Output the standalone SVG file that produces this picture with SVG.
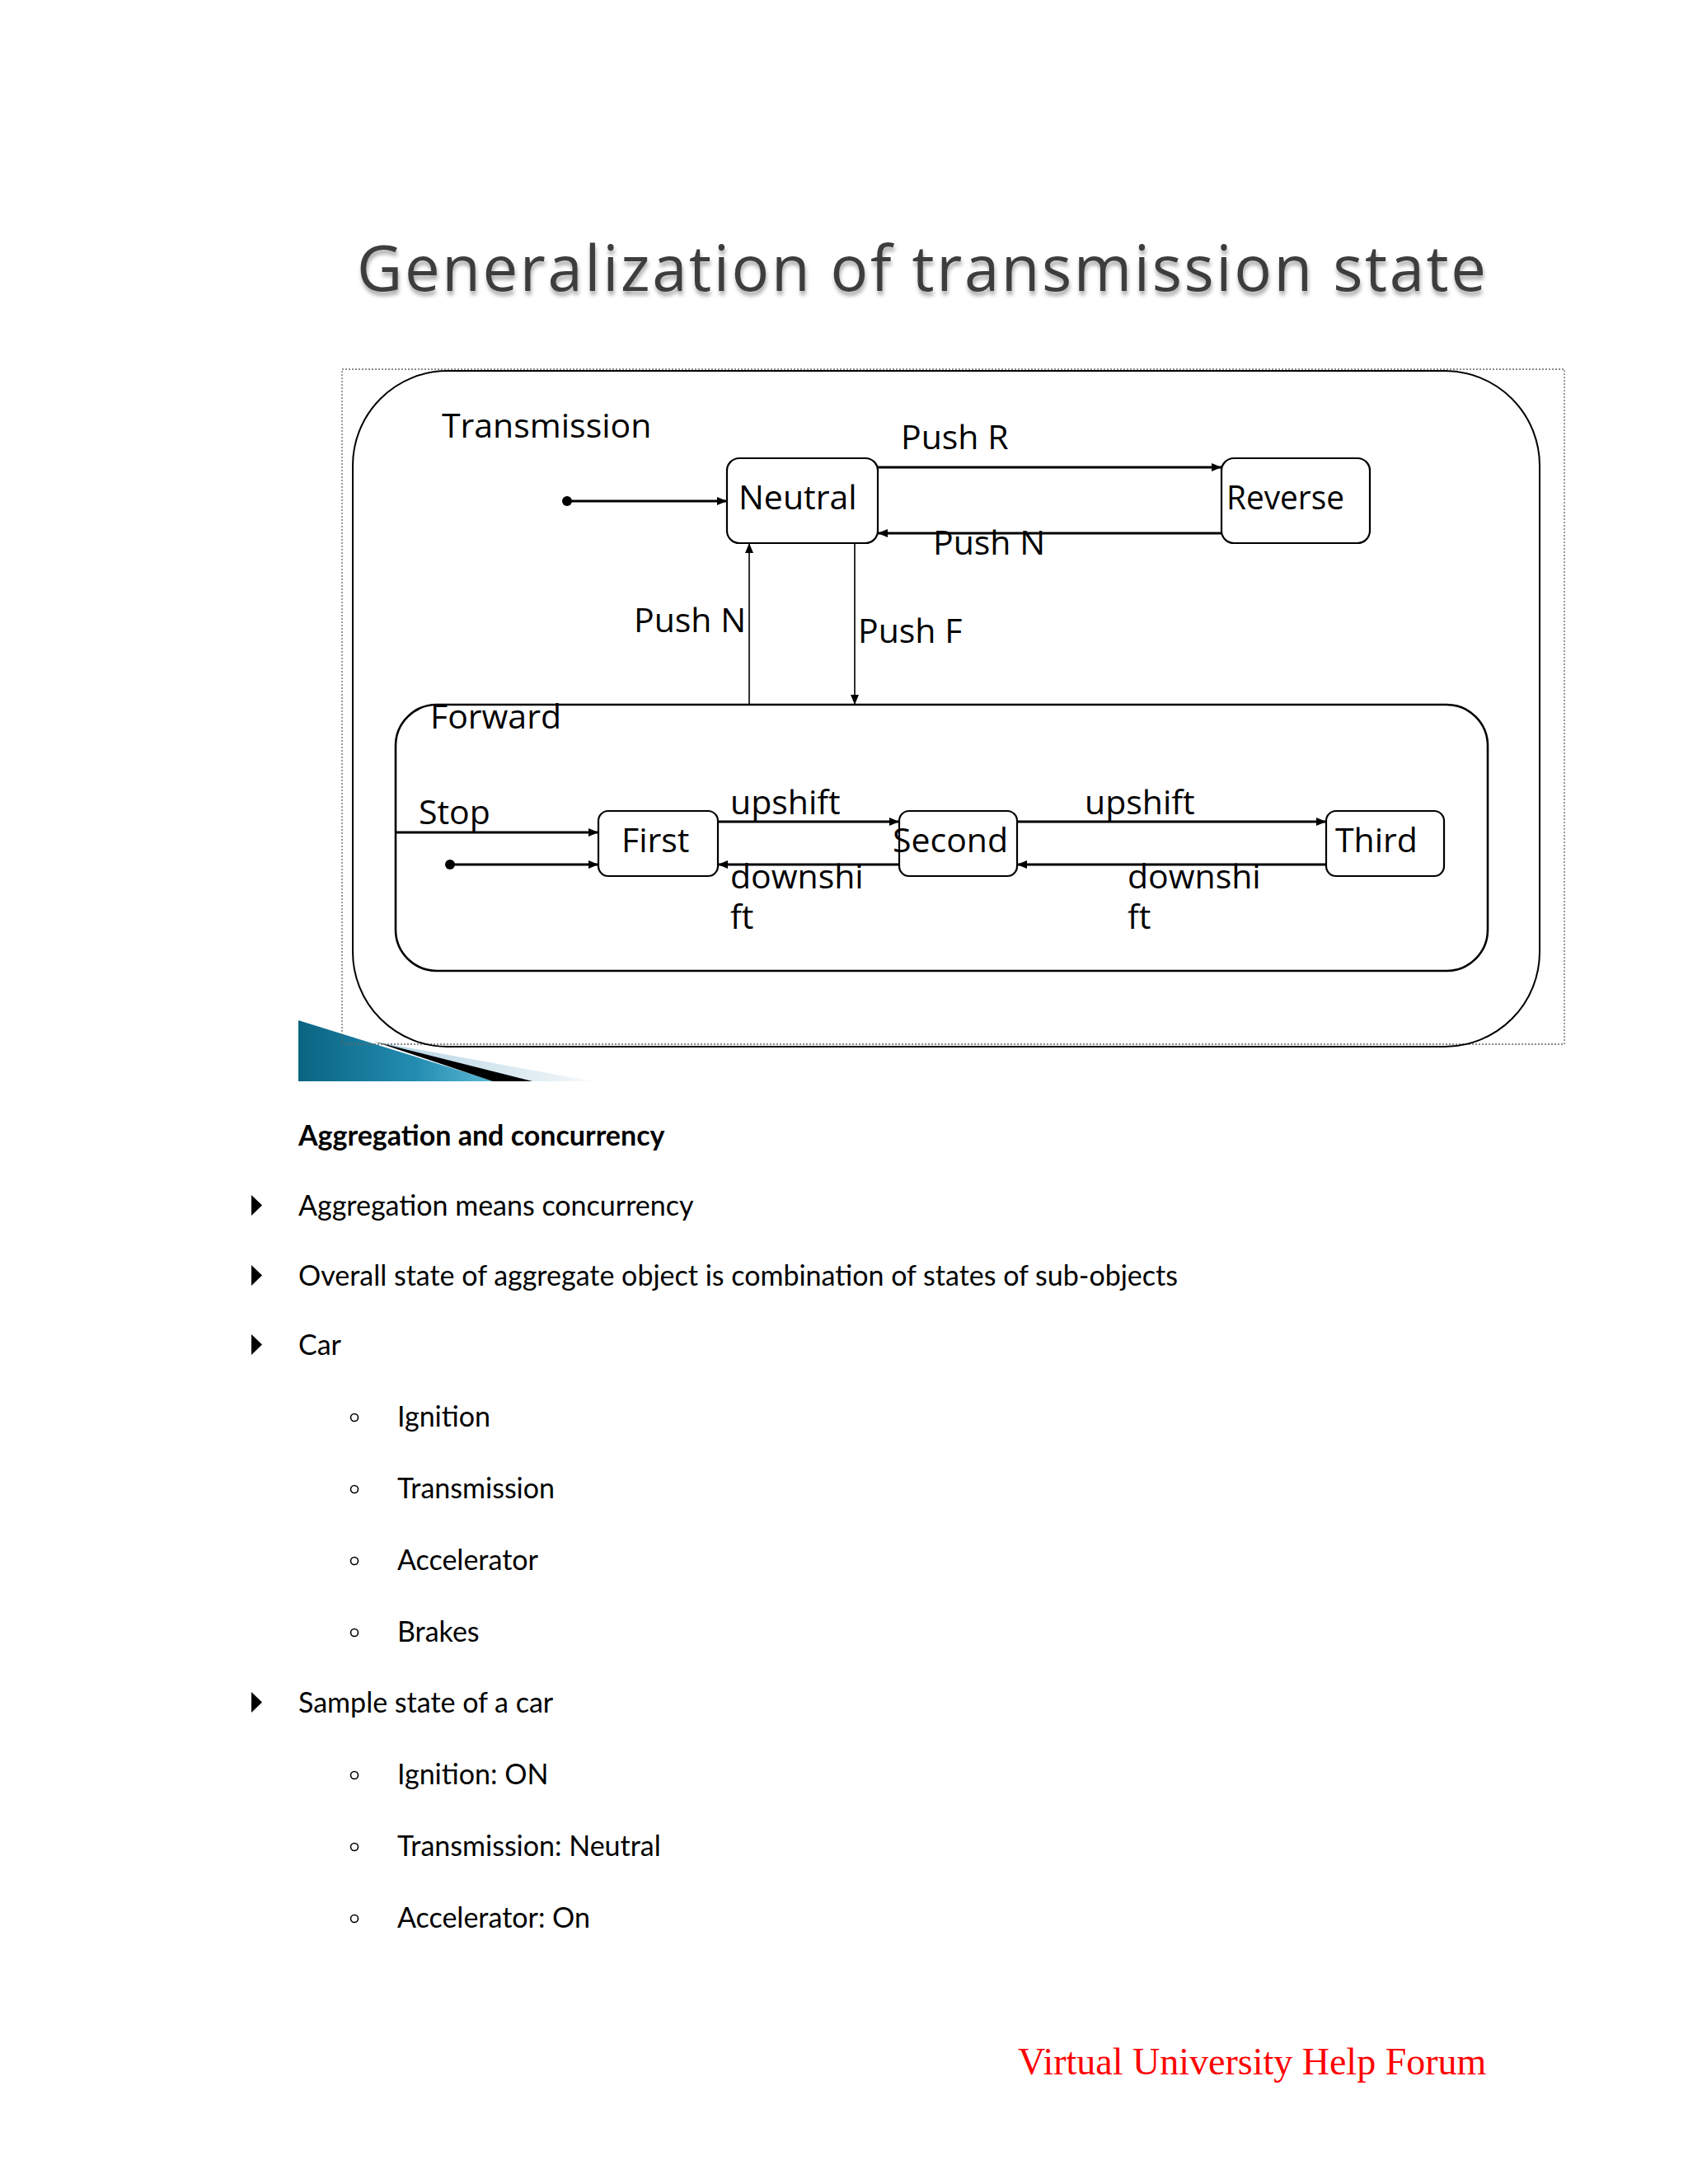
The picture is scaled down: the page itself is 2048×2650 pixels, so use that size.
<svg xmlns="http://www.w3.org/2000/svg" width="2048" height="2650" viewBox="0 0 2048 2650">
<defs>
<style>
.lbl{font-family:"Open Sans","DejaVu Sans",sans-serif;font-size:41px;fill:#000}
.body{font-family:Lato,"Open Sans",sans-serif;font-size:34px;fill:#000}
.bold{font-weight:bold}
.box{fill:#fff;stroke:#000;stroke-width:2.2}
.con{fill:none;stroke:#000;stroke-width:3}
.vcon{fill:none;stroke:#000;stroke-width:1.6}
.sub{fill:none;stroke:#000;stroke-width:1.6}
</style>
<marker id="ah" markerUnits="userSpaceOnUse" markerWidth="14" markerHeight="12" refX="12" refY="5" orient="auto">
<path d="M0,0 L12,5 L0,10 z" fill="#000"/>
</marker>
<filter id="shadow" x="-5%" y="-30%" width="110%" height="160%">
<feGaussianBlur in="SourceAlpha" stdDeviation="2.5"/>
<feOffset dx="1" dy="5" result="b"/>
<feComponentTransfer><feFuncA type="linear" slope="0.35"/></feComponentTransfer>
<feMerge><feMergeNode/><feMergeNode in="SourceGraphic"/></feMerge>
</filter>
<linearGradient id="teal" x1="0" y1="0" x2="1" y2="0">
<stop offset="0" stop-color="#0a6482"/>
<stop offset="0.6" stop-color="#238db1"/>
<stop offset="1" stop-color="#5fb8d4"/>
</linearGradient>
<linearGradient id="fade" x1="0" y1="0" x2="1" y2="0">
<stop offset="0" stop-color="#b2d3e3"/>
<stop offset="0.8" stop-color="#e6f0f5"/>
<stop offset="1" stop-color="#f8fbfc"/>
</linearGradient>
</defs>
<rect x="0" y="0" width="2048" height="2650" fill="#fff"/>

<text id="title" x="433" y="353" font-family="'Open Sans','DejaVu Sans',sans-serif" font-size="76" fill="#3e3e3e" textLength="1370" lengthAdjust="spacing" filter="url(#shadow)">Generalization of transmission state</text>

<g id="decoration">
<polygon points="455,1264 720,1312 598,1312" fill="url(#fade)"/>
<polygon points="362,1238 362,1312 600,1312" fill="url(#teal)"/>
<polygon points="455,1264 598,1312 646,1312" fill="#000"/>
</g>

<rect id="frame" x="415" y="448" width="1483" height="819" fill="none" stroke="#666" stroke-width="1.3" stroke-dasharray="2,2"/>

<g id="transmission">
<rect x="428" y="450" width="1440" height="820" rx="115" ry="115" fill="none" stroke="#000" stroke-width="2"/>
<text class="lbl" x="536" y="531">Transmission</text>
</g>

<g id="forward">
<rect x="480" y="855" width="1325" height="323" rx="50" ry="50" fill="none" stroke="#000" stroke-width="2.6"/>
<text class="lbl" x="522" y="884">Forward</text>
</g>

<g id="neutral">
<rect class="box" x="882" y="556" width="183" height="103" rx="15"/>
<text class="lbl" x="896" y="618">Neutral</text>
</g>
<g id="reverse">
<rect class="box" x="1482" y="556" width="180" height="103" rx="15"/>
<text class="lbl" x="1488" y="618" textLength="143" lengthAdjust="spacingAndGlyphs">Reverse</text>
</g>
<g id="first">
<rect class="box" x="726" y="984" width="145" height="79" rx="12"/>
<text class="lbl" x="754" y="1034">First</text>
</g>
<g id="second">
<rect class="box" x="1091" y="984" width="143" height="79" rx="12"/>
<text class="lbl" x="1083" y="1034">Second</text>
</g>
<g id="third">
<rect class="box" x="1609" y="984" width="143" height="79" rx="12"/>
<text class="lbl" x="1620" y="1034">Third</text>
</g>

<g id="connectors">
<circle cx="688" cy="608" r="6" fill="#000"/>
<line class="con" x1="688" y1="608" x2="882" y2="608" marker-end="url(#ah)"/>
<line class="con" x1="1065" y1="567" x2="1482" y2="567" marker-end="url(#ah)"/>
<line class="con" x1="1482" y1="647" x2="1065" y2="647" marker-end="url(#ah)"/>
<line class="vcon" x1="909" y1="855" x2="909" y2="659" marker-end="url(#ah)"/>
<line class="vcon" x1="1037" y1="659" x2="1037" y2="855" marker-end="url(#ah)"/>
<line class="con" x1="480" y1="1010" x2="726" y2="1010" marker-end="url(#ah)"/>
<circle cx="546" cy="1049" r="6" fill="#000"/>
<line class="con" x1="546" y1="1049" x2="726" y2="1049" marker-end="url(#ah)"/>
<line class="con" x1="871" y1="997" x2="1091" y2="997" marker-end="url(#ah)"/>
<line class="con" x1="1091" y1="1049" x2="871" y2="1049" marker-end="url(#ah)"/>
<line class="con" x1="1234" y1="997" x2="1609" y2="997" marker-end="url(#ah)"/>
<line class="con" x1="1609" y1="1049" x2="1234" y2="1049" marker-end="url(#ah)"/>
<text class="lbl" x="1093" y="545">Push R</text>
<text class="lbl" x="1132" y="673">Push N</text>
<text class="lbl" x="769" y="767">Push N</text>
<text class="lbl" x="1041" y="780">Push F</text>
<text class="lbl" x="508" y="1000">Stop</text>
<text class="lbl" x="886" y="988">upshift</text>
<text class="lbl" x="1316" y="988">upshift</text>
<text class="lbl" x="886" y="1078">downshi<tspan x="886" y="1127">ft</tspan></text>
<text class="lbl" x="1368" y="1078">downshi<tspan x="1368" y="1127">ft</tspan></text>
</g>

<g id="text-section">
<text class="body bold" x="362" y="1390">Aggregation and concurrency</text>
<polygon points="305,1450 305,1475 318,1462.5" fill="#000"/>
<text class="body" x="362" y="1475">Aggregation means concurrency</text>
<polygon points="305,1535 305,1560 318,1547.5" fill="#000"/>
<text class="body" x="362" y="1560">Overall state of aggregate object is combination of states of sub-objects</text>
<polygon points="305,1619 305,1644 318,1631.5" fill="#000"/>
<text class="body" x="362" y="1644">Car</text>
<circle class="sub" cx="430" cy="1720" r="4.5"/>
<text class="body" x="482" y="1731">Ignition</text>
<circle class="sub" cx="430" cy="1807" r="4.5"/>
<text class="body" x="482" y="1818">Transmission</text>
<circle class="sub" cx="430" cy="1894" r="4.5"/>
<text class="body" x="482" y="1905">Accelerator</text>
<circle class="sub" cx="430" cy="1981" r="4.5"/>
<text class="body" x="482" y="1992">Brakes</text>
<polygon points="305,2053 305,2078 318,2065.5" fill="#000"/>
<text class="body" x="362" y="2078">Sample state of a car</text>
<circle class="sub" cx="430" cy="2154" r="4.5"/>
<text class="body" x="482" y="2165">Ignition: ON</text>
<circle class="sub" cx="430" cy="2241" r="4.5"/>
<text class="body" x="482" y="2252">Transmission: Neutral</text>
<circle class="sub" cx="430" cy="2328" r="4.5"/>
<text class="body" x="482" y="2339">Accelerator: On</text>
</g>

<text id="footer" x="1235" y="2517" font-family="'Liberation Serif','Times New Roman',serif" font-size="46" fill="#ff0000">Virtual University Help Forum</text>
</svg>
